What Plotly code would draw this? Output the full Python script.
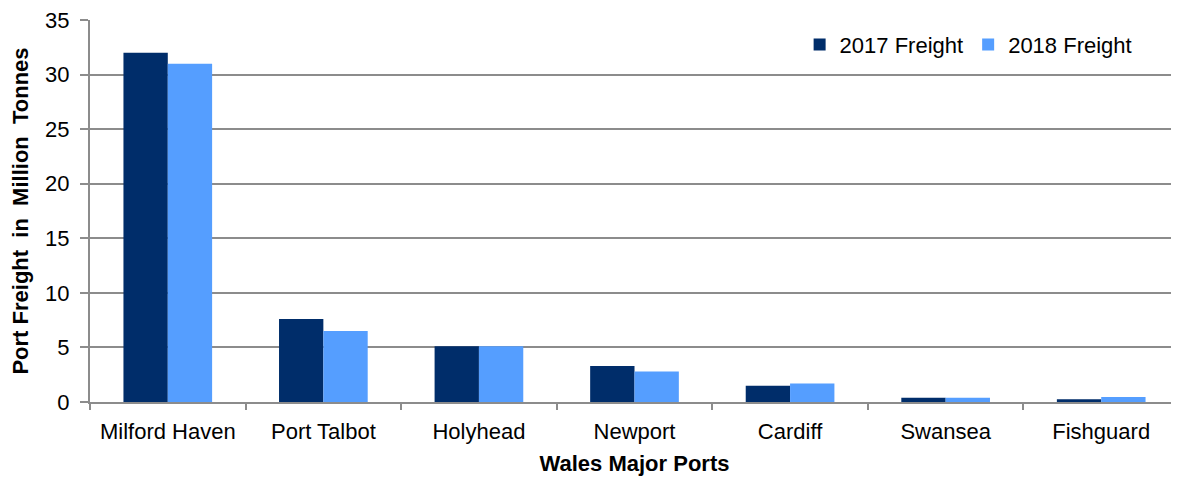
import plotly.graph_objects as go

ports = ["Milford Haven", "Port Talbot", "Holyhead", "Newport", "Cardiff", "Swansea", "Fishguard"]
freight_2017 = [32.0, 7.6, 5.1, 3.3, 1.5, 0.4, 0.25]
freight_2018 = [31.0, 6.5, 5.1, 2.8, 1.7, 0.4, 0.45]
y_ticks = [0, 5, 10, 15, 20, 25, 30, 35]

fig = go.Figure()
fig.add_trace(go.Bar(x=ports, y=freight_2017, name="2017 Freight",
                     marker=dict(color="#002D6A", line=dict(width=0))))
fig.add_trace(go.Bar(x=ports, y=freight_2018, name="2018 Freight",
                     marker=dict(color="#559EFF", line=dict(width=0))))

font_family = "Liberation Sans, Arial, sans-serif"
NB = "\u00a0"
fig.update_layout(
    width=1171, height=471,
    margin=dict(l=82, r=0, t=12, b=77),
    plot_bgcolor="white", paper_bgcolor="white",
    barmode="group", bargap=0.43, bargroupgap=0,
    font=dict(family=font_family, size=22, color="#000000"),
    showlegend=True,
    legend=dict(orientation="h", x=0.962, xanchor="right", y=0.99, yanchor="top",
                font=dict(size=22, color="#000000"), bgcolor="rgba(0,0,0,0)",
                itemwidth=30, traceorder="normal"),
    xaxis=dict(
        title=dict(text="<b>Wales Major Ports</b>", font=dict(size=22), standoff=12),
        tickson="boundaries", ticks="outside", ticklen=6, tickcolor="#8c8c8c", tickwidth=2,
        showline=True, linecolor="#8c8c8c", linewidth=2,
        showgrid=False, tickfont=dict(size=22), ticklabelstandoff=9,
    ),
    yaxis=dict(
        title=dict(text=f"<b>Port Freight {NB}in {NB}Million {NB}Tonnes</b>",
                   font=dict(size=22), standoff=14),
        range=[0, 35], tickvals=y_ticks, ticks="outside", ticklen=8,
        tickcolor="#8c8c8c", tickwidth=2,
        showline=True, linecolor="#8c8c8c", linewidth=2,
        showgrid=True, gridcolor="#8c8c8c", gridwidth=1.5,
        zeroline=False, tickfont=dict(size=22), ticklabeloverflow="allow",
        ticklabelstandoff=6,
    ),
)

fig.write_html("out.html")
